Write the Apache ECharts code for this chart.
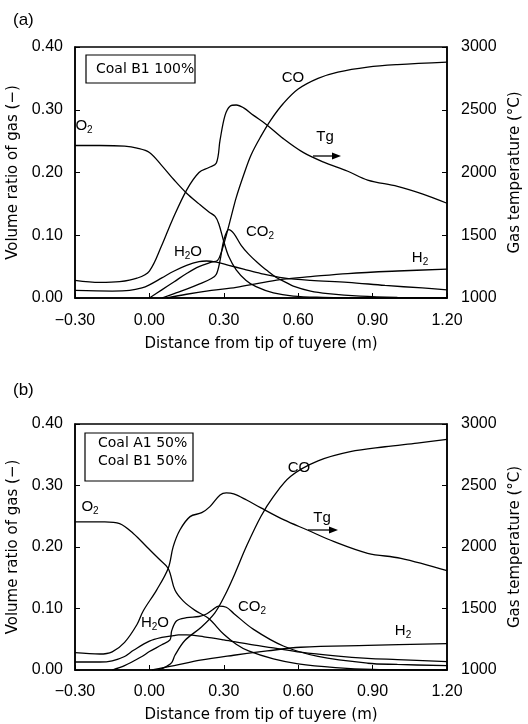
<!DOCTYPE html>
<html>
<head>
<meta charset="utf-8">
<script src="https://cdn.jsdelivr.net/npm/echarts@6/dist/echarts.min.js"></script>
<style>
  html, body { margin: 0; padding: 0; background: #fff; }
  #chart { width: 528px; height: 724px; }
</style>
</head>
<body>
<div id="chart"></div>
<script>
// ---- data ----
var xTicks = [-0.30, 0.00, 0.30, 0.60, 0.90, 1.20];

// (a) Coal B1 100%
var tgAx = [-0.30, -0.20, -0.12, -0.05, 0.0, 0.05, 0.09, 0.15, 0.20, 0.24, 0.27, 0.285, 0.305, 0.325, 0.35, 0.38, 0.42, 0.47, 0.54, 0.62, 0.70, 0.80, 0.88, 1.00, 1.10, 1.20];
var tgAy = [1140, 1124, 1130, 1158, 1215, 1420, 1610, 1860, 2000, 2040, 2075, 2260, 2455, 2528, 2538, 2515, 2455, 2385, 2270, 2160, 2085, 2010, 1940, 1890, 1830, 1755];
var o2Ax = [-0.30, -0.20, -0.10, -0.05, 0.0, 0.05, 0.10, 0.15, 0.20, 0.24, 0.265, 0.28, 0.30, 0.32, 0.35, 0.39, 0.43, 0.50, 0.58, 0.70, 0.85, 1.20];
var o2Ay = [0.243, 0.243, 0.242, 0.239, 0.232, 0.211, 0.188, 0.167, 0.150, 0.137, 0.130, 0.118, 0.090, 0.066, 0.045, 0.028, 0.018, 0.008, 0.003, 0.001, 0, 0];
var h2oAx = [-0.30, -0.15, -0.08, -0.03, 0.0, 0.05, 0.10, 0.15, 0.20, 0.23, 0.27, 0.32, 0.38, 0.45, 0.54, 0.65, 0.80, 0.95, 1.10, 1.20];
var h2oAy = [0.012, 0.011, 0.012, 0.016, 0.021, 0.032, 0.043, 0.052, 0.058, 0.059, 0.057, 0.052, 0.046, 0.039, 0.032, 0.028, 0.025, 0.020, 0.016, 0.013];
var coAx = [0.0, 0.05, 0.10, 0.15, 0.20, 0.25, 0.275, 0.29, 0.31, 0.33, 0.35, 0.38, 0.41, 0.45, 0.49, 0.54, 0.60, 0.68, 0.76, 0.88, 1.00, 1.20];
var coAy = [0, 0.013, 0.026, 0.039, 0.050, 0.057, 0.060, 0.073, 0.100, 0.130, 0.160, 0.196, 0.228, 0.258, 0.284, 0.310, 0.333, 0.350, 0.360, 0.368, 0.372, 0.376];
var co2Ax = [0.05, 0.10, 0.15, 0.20, 0.25, 0.27, 0.285, 0.30, 0.32, 0.34, 0.37, 0.40, 0.44, 0.48, 0.51, 0.55, 0.58, 0.65, 0.72, 0.85, 1.00, 1.20];
var co2Ay = [0, 0.007, 0.014, 0.022, 0.031, 0.038, 0.060, 0.092, 0.109, 0.103, 0.084, 0.070, 0.055, 0.042, 0.033, 0.025, 0.019, 0.011, 0.007, 0.003, 0.001, 0];
var h2Ax = [0.07, 0.15, 0.25, 0.35, 0.45, 0.54, 0.65, 0.80, 1.00, 1.20];
var h2Ay = [0, 0.006, 0.012, 0.017, 0.024, 0.030, 0.034, 0.039, 0.043, 0.046];

// (b) Coal A1 50% + Coal B1 50%
var tgBx = [-0.30, -0.20, -0.15, -0.10, -0.05, -0.025, 0.029, 0.076, 0.096, 0.123, 0.164, 0.211, 0.244, 0.285, 0.31, 0.34, 0.392, 0.448, 0.543, 0.637, 0.745, 0.88, 1.014, 1.20];
var tgBy = [1141, 1130, 1148, 1225, 1370, 1480, 1650, 1827, 2003, 2138, 2247, 2279, 2328, 2423, 2440, 2432, 2382, 2320, 2220, 2138, 2043, 1949, 1908, 1808];
var o2Bx = [-0.30, -0.18, -0.12, -0.065, -0.01, 0.04, 0.076, 0.103, 0.137, 0.184, 0.238, 0.30, 0.35, 0.40, 0.50, 0.60, 0.75, 0.90, 1.20];
var o2By = [0.241, 0.241, 0.238, 0.222, 0.200, 0.180, 0.165, 0.130, 0.112, 0.097, 0.084, 0.058, 0.042, 0.031, 0.018, 0.010, 0.004, 0.001, 0];
var h2oBx = [-0.30, -0.20, -0.15, -0.10, -0.064, 0.0, 0.05, 0.098, 0.117, 0.15, 0.22, 0.30, 0.40, 0.50, 0.61, 0.75, 0.88, 1.00, 1.20];
var h2oBy = [0.013, 0.013, 0.015, 0.022, 0.032, 0.047, 0.053, 0.056, 0.057, 0.057, 0.054, 0.049, 0.042, 0.036, 0.029, 0.023, 0.019, 0.017, 0.0135];
var coBx = [0.036, 0.07, 0.09, 0.103, 0.143, 0.21, 0.264, 0.305, 0.345, 0.39, 0.45, 0.50, 0.57, 0.68, 0.81, 0.95, 1.08, 1.20];
var coBy = [0, 0.006, 0.012, 0.024, 0.048, 0.070, 0.093, 0.122, 0.157, 0.200, 0.250, 0.282, 0.315, 0.340, 0.355, 0.363, 0.369, 0.375];
var co2Bx = [-0.15, -0.10, -0.03, 0.0, 0.05, 0.083, 0.09, 0.11, 0.15, 0.20, 0.23, 0.255, 0.28, 0.31, 0.34, 0.42, 0.54, 0.68, 0.88, 1.00, 1.20];
var co2By = [0, 0.007, 0.022, 0.030, 0.041, 0.049, 0.064, 0.080, 0.085, 0.087, 0.091, 0.098, 0.104, 0.102, 0.092, 0.066, 0.039, 0.022, 0.011, 0.009, 0.007];
var h2Bx = [0.01, 0.10, 0.205, 0.34, 0.475, 0.61, 0.88, 1.20];
var h2By = [0, 0.007, 0.016, 0.024, 0.031, 0.037, 0.040, 0.043];

function pairs(xs, ys) {
  return xs.map(function (x, i) { return [x, ys[i]]; });
}

var FONT = 'Liberation Sans, Arial, sans-serif';
var TFONT = 'DejaVu Sans, sans-serif';
var chart = echarts.init(document.getElementById('chart'));

function xAxisFor(gi, margin, gap) {
  return {
    type: 'value', gridIndex: gi, min: -0.3, max: 1.2, interval: 0.3,
    axisLine: {onZero: false, lineStyle: {color: '#000', width: 1.5}},
    axisTick: {inside: true, length: 5, lineStyle: {color: '#000'}},
    splitLine: {show: false},
    axisLabel: {color: '#000', fontSize: 16, fontFamily: FONT, margin: margin,
      formatter: function (v) { return (v < 0 ? '\u2212' : '') + Math.abs(v).toFixed(2); }},
    name: 'Distance from tip of tuyere (m)', nameLocation: 'middle', nameGap: gap,
    nameTextStyle: {color: '#000', fontSize: 15, fontFamily: TFONT}
  };
}
function yLeft(gi) {
  return {
    type: 'value', gridIndex: gi, min: 0, max: 0.4, interval: 0.1, position: 'left',
    axisLine: {show: true, onZero: false, lineStyle: {color: '#000', width: 1.5}},
    axisTick: {show: true, inside: true, length: 5, lineStyle: {color: '#000'}},
    splitLine: {show: false},
    axisLabel: {color: '#000', fontSize: 16, fontFamily: FONT, margin: 12,
      formatter: function (v) { return v.toFixed(2); }},
    name: 'Volume ratio of gas (\u2212)', nameLocation: 'middle', nameGap: 43,
    nameTextStyle: {color: '#000', fontSize: 15, fontFamily: TFONT}
  };
}
function yRight(gi) {
  return {
    type: 'value', gridIndex: gi, min: 1000, max: 3000, interval: 500, position: 'right',
    axisLine: {show: true, onZero: false, lineStyle: {color: '#000', width: 1.5}},
    axisTick: {show: true, inside: true, length: 5, lineStyle: {color: '#000'}},
    splitLine: {show: false},
    axisLabel: {color: '#000', fontSize: 16, fontFamily: FONT, margin: 14,
      formatter: function (v) { return String(v); }},
    name: 'Gas temperature (\u00b0C)', nameLocation: 'middle', nameGap: 52, nameRotate: 90,
    nameTextStyle: {color: '#000', fontSize: 15, fontFamily: TFONT}
  };
}
function line(name, xi, yi, data) {
  return {
    name: name, type: 'line', xAxisIndex: xi, yAxisIndex: yi, data: data,
    smooth: 0.35, symbol: 'none', silent: true,
    lineStyle: {color: '#000', width: 1.3}
  };
}

var rich = {
  n: {fontSize: 15, fontFamily: FONT, color: '#000'},
  s: {fontSize: 10, fontFamily: FONT, color: '#000', padding: [9, 0, 0, 0]}
};
function label(txt, x, y) {
  return {type: 'text', x: x, y: y, silent: true,
    style: {text: txt, rich: rich, align: 'center', verticalAlign: 'middle'}};
}
function plain(txt, x, y, size, align) {
  return {type: 'text', x: x, y: y, silent: true,
    style: {text: txt, fontSize: size, fontFamily: FONT, fill: '#000', align: align || 'left', verticalAlign: 'middle'}};
}
function arrow(x1, x2, y) {
  return {type: 'group', silent: true, children: [
    {type: 'line', shape: {x1: x1, y1: y, x2: x2 - 6, y2: y}, style: {stroke: '#000', lineWidth: 1.3}},
    {type: 'polygon', shape: {points: [[x2, y], [x2 - 9, y - 3.5], [x2 - 9, y + 3.5]]}, style: {fill: '#000'}}
  ]};
}
function box(x, y, w, h) {
  return {type: 'rect', silent: true, shape: {x: x, y: y, width: w, height: h},
    style: {fill: '#fff', stroke: '#000', lineWidth: 1.2}, z: 10};
}
function boxText(txt, x, y) {
  return {type: 'text', x: x, y: y, z: 11, silent: true,
    style: {text: txt, fontSize: 14, fontFamily: TFONT, fill: '#000', verticalAlign: 'middle'}};
}

var option = {
  animation: false,
  backgroundColor: '#fff',
  grid: [
    {left: 75, right: 81, top: 47, bottom: 426, show: true, borderColor: '#000', borderWidth: 1.5,
      containLabel: false, outerBoundsMode: 'none'},
    {left: 75, right: 81, top: 424, bottom: 54, show: true, borderColor: '#000', borderWidth: 1.5,
      containLabel: false, outerBoundsMode: 'none'}
  ],
  xAxis: [xAxisFor(0, 15, 39), xAxisFor(1, 14, 38)],
  yAxis: [yLeft(0), yRight(0), yLeft(1), yRight(1)],
  series: [
    line('Tg a', 0, 1, pairs(tgAx, tgAy)),
    line('O2 a', 0, 0, pairs(o2Ax, o2Ay)),
    line('H2O a', 0, 0, pairs(h2oAx, h2oAy)),
    line('CO a', 0, 0, pairs(coAx, coAy)),
    line('CO2 a', 0, 0, pairs(co2Ax, co2Ay)),
    line('H2 a', 0, 0, pairs(h2Ax, h2Ay)),
    line('Tg b', 1, 3, pairs(tgBx, tgBy)),
    line('O2 b', 1, 2, pairs(o2Bx, o2By)),
    line('H2O b', 1, 2, pairs(h2oBx, h2oBy)),
    line('CO b', 1, 2, pairs(coBx, coBy)),
    line('CO2 b', 1, 2, pairs(co2Bx, co2By)),
    line('H2 b', 1, 2, pairs(h2Bx, h2By))
  ],
  graphic: [
    plain('(a)', 13, 20, 17),
    plain('(b)', 13, 390, 17),
    box(86, 55, 109, 28),
    boxText('Coal B1 100%', 96, 69),
    box(85, 433, 108, 48),
    boxText('Coal A1 50%', 98, 443),
    boxText('Coal B1 50%', 98, 461),
    label('{n|O}{s|2}', 84, 126),
    label('{n|CO}', 293, 78),
    label('{n|Tg}', 325, 137),
    arrow(313, 341, 156),
    label('{n|H}{s|2}{n|O}', 188, 252),
    label('{n|CO}{s|2}', 260, 232),
    label('{n|H}{s|2}', 420, 258),
    label('{n|O}{s|2}', 90, 507),
    label('{n|CO}', 299, 468),
    label('{n|Tg}', 322, 518),
    arrow(308, 338, 530),
    label('{n|H}{s|2}{n|O}', 155, 623),
    label('{n|CO}{s|2}', 252, 607),
    label('{n|H}{s|2}', 403, 631)
  ]
};

chart.setOption(option);
</script>
</body>
</html>
